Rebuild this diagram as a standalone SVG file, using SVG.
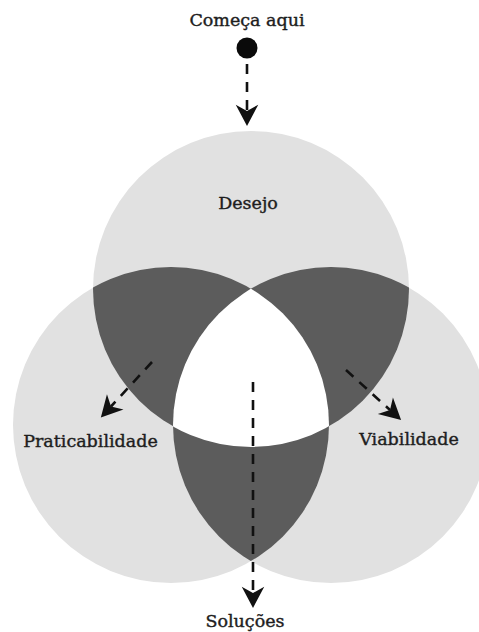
<svg xmlns="http://www.w3.org/2000/svg" width="479" height="632" viewBox="0 0 479 632">
  <style>
    .label { font-family: "DejaVu Serif", "Liberation Serif", serif; font-size: 17.5px; fill: #1e1e1e; stroke: #1e1e1e; stroke-width: 0.4; text-anchor: middle; }
    .set { fill: #e1e1e1; }
    .pair { fill: #5b5b5b; }
    .core { fill: #ffffff; }
    .flow { fill: none; stroke: #111111; stroke-width: 2.6; stroke-dasharray: 10 8; marker-end: url(#head); }
  </style>
  <defs>
    <!-- stealth arrowhead; origin sits at the notch so the dashed line ends inside it -->
    <marker id="head" markerUnits="userSpaceOnUse" markerWidth="30" markerHeight="30" refX="0" refY="0" viewBox="-8 -12 24 24" orient="auto" overflow="visible">
      <path d="M12,0 L-5,-9 L0,0 L-5,9 Z" fill="#111111"/>
    </marker>
    <clipPath id="clipT"><circle cx="251" cy="289" r="158"/></clipPath>
    <clipPath id="clipL"><circle cx="171" cy="425" r="158"/></clipPath>
    <clipPath id="clipR"><circle cx="331" cy="425" r="158"/></clipPath>
    <filter id="soft" x="-5%" y="-5%" width="110%" height="110%">
      <feGaussianBlur stdDeviation="0.7"/>
    </filter>
  </defs>

  <rect width="479" height="632" fill="#ffffff"/>

  <!-- the three sets and their overlaps -->
  <g id="sets" filter="url(#soft)">
    <circle id="set-desejo" class="set" cx="251" cy="289" r="158"/>
    <circle id="set-praticabilidade" class="set" cx="171" cy="425" r="158"/>
    <circle id="set-viabilidade" class="set" cx="331" cy="425" r="158"/>
    <circle class="pair" cx="171" cy="425" r="158" clip-path="url(#clipT)"/>
    <circle class="pair" cx="331" cy="425" r="158" clip-path="url(#clipT)"/>
    <circle class="pair" cx="331" cy="425" r="158" clip-path="url(#clipL)"/>
    <g clip-path="url(#clipR)">
      <circle class="core" cx="171" cy="425" r="158" clip-path="url(#clipT)"/>
    </g>
  </g>

  <g id="start">
    <text class="label" x="247" y="26">Começa aqui</text>
    <circle cx="247" cy="48" r="10.5" fill="#0a0a0a"/>
  </g>
  <g id="desejo">
    <text class="label" x="248" y="209">Desejo</text>
  </g>
  <g id="praticabilidade">
    <text class="label" x="90.5" y="447">Praticabilidade</text>
  </g>
  <g id="viabilidade">
    <text class="label" x="409" y="445">Viabilidade</text>
  </g>
  <g id="solucoes">
    <text class="label" x="245" y="627">Soluções</text>
  </g>

  <g id="connectors">
    <line class="flow" x1="247" y1="64" x2="247" y2="111"/>
    <line class="flow" x1="152" y1="362" x2="111" y2="406.5"/>
    <line class="flow" x1="346" y1="370" x2="390" y2="410"/>
    <line class="flow" x1="253" y1="382" x2="253" y2="593"/>
  </g>
</svg>
